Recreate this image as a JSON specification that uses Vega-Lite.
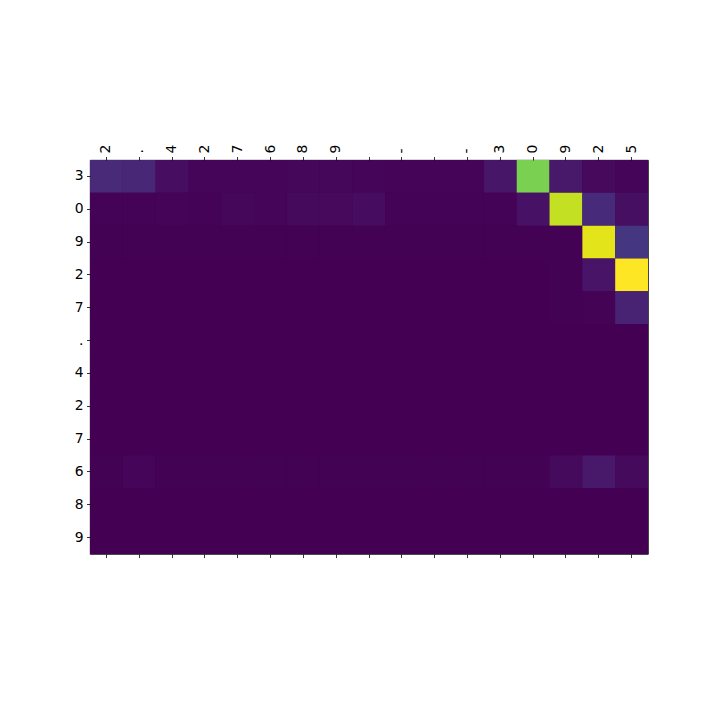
{
  "$schema": "https://vega.github.io/schema/vega-lite/v6.json",
  "width": 558,
  "height": 394,
  "autosize": {"type": "none"},
  "padding": {"left": 90, "top": 160, "right": 72, "bottom": 166},
  "background": "white",
  "data": {"values": [
    {"r":0,"c":0,"v":0.115},{"r":0,"c":1,"v":0.105},{"r":0,"c":2,"v":0.03},{"r":0,"c":3,"v":0.01},{"r":0,"c":4,"v":0.014},{"r":0,"c":5,"v":0.014},{"r":0,"c":6,"v":0.016},{"r":0,"c":7,"v":0.016},{"r":0,"c":8,"v":0.012},{"r":0,"c":9,"v":0.008},{"r":0,"c":10,"v":0.008},{"r":0,"c":11,"v":0.008},{"r":0,"c":12,"v":0.055},{"r":0,"c":13,"v":0.8},{"r":0,"c":14,"v":0.065},{"r":0,"c":15,"v":0.02},{"r":0,"c":16,"v":0.012},
    {"r":1,"c":0,"v":0.004},{"r":1,"c":1,"v":0.004},{"r":1,"c":2,"v":0.008},{"r":1,"c":3,"v":0.004},{"r":1,"c":4,"v":0.016},{"r":1,"c":5,"v":0.01},{"r":1,"c":6,"v":0.022},{"r":1,"c":7,"v":0.02},{"r":1,"c":8,"v":0.027},{"r":1,"c":9,"v":0.004},{"r":1,"c":10,"v":0.004},{"r":1,"c":11,"v":0.004},{"r":1,"c":12,"v":0.004},{"r":1,"c":13,"v":0.045},{"r":1,"c":14,"v":0.91},{"r":1,"c":15,"v":0.12},{"r":1,"c":16,"v":0.035},
    {"r":2,"c":0,"v":0.002},{"r":2,"c":1,"v":0.002},{"r":2,"c":2,"v":0.002},{"r":2,"c":3,"v":0.002},{"r":2,"c":4,"v":0.002},{"r":2,"c":5,"v":0.002},{"r":2,"c":6,"v":0.002},{"r":2,"c":7,"v":0.002},{"r":2,"c":8,"v":0.002},{"r":2,"c":9,"v":0.002},{"r":2,"c":10,"v":0.002},{"r":2,"c":11,"v":0.002},{"r":2,"c":12,"v":0.002},{"r":2,"c":13,"v":0.002},{"r":2,"c":14,"v":0.003},{"r":2,"c":15,"v":0.96},{"r":2,"c":16,"v":0.155},
    {"r":3,"c":0,"v":0.001},{"r":3,"c":1,"v":0.001},{"r":3,"c":2,"v":0.001},{"r":3,"c":3,"v":0.001},{"r":3,"c":4,"v":0.001},{"r":3,"c":5,"v":0.001},{"r":3,"c":6,"v":0.001},{"r":3,"c":7,"v":0.001},{"r":3,"c":8,"v":0.001},{"r":3,"c":9,"v":0.001},{"r":3,"c":10,"v":0.001},{"r":3,"c":11,"v":0.001},{"r":3,"c":12,"v":0.001},{"r":3,"c":13,"v":0.001},{"r":3,"c":14,"v":0.002},{"r":3,"c":15,"v":0.05},{"r":3,"c":16,"v":1.0},
    {"r":4,"c":0,"v":0.001},{"r":4,"c":1,"v":0.001},{"r":4,"c":2,"v":0.001},{"r":4,"c":3,"v":0.001},{"r":4,"c":4,"v":0.001},{"r":4,"c":5,"v":0.001},{"r":4,"c":6,"v":0.001},{"r":4,"c":7,"v":0.001},{"r":4,"c":8,"v":0.001},{"r":4,"c":9,"v":0.001},{"r":4,"c":10,"v":0.001},{"r":4,"c":11,"v":0.001},{"r":4,"c":12,"v":0.001},{"r":4,"c":13,"v":0.001},{"r":4,"c":14,"v":0.002},{"r":4,"c":15,"v":0.006},{"r":4,"c":16,"v":0.095},
    {"r":5,"c":0,"v":0},{"r":5,"c":1,"v":0},{"r":5,"c":2,"v":0},{"r":5,"c":3,"v":0},{"r":5,"c":4,"v":0},{"r":5,"c":5,"v":0},{"r":5,"c":6,"v":0},{"r":5,"c":7,"v":0},{"r":5,"c":8,"v":0},{"r":5,"c":9,"v":0},{"r":5,"c":10,"v":0},{"r":5,"c":11,"v":0},{"r":5,"c":12,"v":0},{"r":5,"c":13,"v":0},{"r":5,"c":14,"v":0},{"r":5,"c":15,"v":0},{"r":5,"c":16,"v":0.001},
    {"r":6,"c":0,"v":0},{"r":6,"c":1,"v":0},{"r":6,"c":2,"v":0},{"r":6,"c":3,"v":0},{"r":6,"c":4,"v":0},{"r":6,"c":5,"v":0},{"r":6,"c":6,"v":0},{"r":6,"c":7,"v":0},{"r":6,"c":8,"v":0},{"r":6,"c":9,"v":0},{"r":6,"c":10,"v":0},{"r":6,"c":11,"v":0},{"r":6,"c":12,"v":0},{"r":6,"c":13,"v":0},{"r":6,"c":14,"v":0},{"r":6,"c":15,"v":0},{"r":6,"c":16,"v":0.001},
    {"r":7,"c":0,"v":0},{"r":7,"c":1,"v":0},{"r":7,"c":2,"v":0},{"r":7,"c":3,"v":0},{"r":7,"c":4,"v":0},{"r":7,"c":5,"v":0},{"r":7,"c":6,"v":0},{"r":7,"c":7,"v":0},{"r":7,"c":8,"v":0},{"r":7,"c":9,"v":0},{"r":7,"c":10,"v":0},{"r":7,"c":11,"v":0},{"r":7,"c":12,"v":0},{"r":7,"c":13,"v":0},{"r":7,"c":14,"v":0},{"r":7,"c":15,"v":0},{"r":7,"c":16,"v":0.001},
    {"r":8,"c":0,"v":0},{"r":8,"c":1,"v":0},{"r":8,"c":2,"v":0},{"r":8,"c":3,"v":0},{"r":8,"c":4,"v":0},{"r":8,"c":5,"v":0},{"r":8,"c":6,"v":0},{"r":8,"c":7,"v":0},{"r":8,"c":8,"v":0},{"r":8,"c":9,"v":0},{"r":8,"c":10,"v":0},{"r":8,"c":11,"v":0},{"r":8,"c":12,"v":0},{"r":8,"c":13,"v":0},{"r":8,"c":14,"v":0},{"r":8,"c":15,"v":0.001},{"r":8,"c":16,"v":0.001},
    {"r":9,"c":0,"v":0.002},{"r":9,"c":1,"v":0.014},{"r":9,"c":2,"v":0.002},{"r":9,"c":3,"v":0.002},{"r":9,"c":4,"v":0.002},{"r":9,"c":5,"v":0.002},{"r":9,"c":6,"v":0.002},{"r":9,"c":7,"v":0.002},{"r":9,"c":8,"v":0.002},{"r":9,"c":9,"v":0.002},{"r":9,"c":10,"v":0.002},{"r":9,"c":11,"v":0.002},{"r":9,"c":12,"v":0.002},{"r":9,"c":13,"v":0.003},{"r":9,"c":14,"v":0.022},{"r":9,"c":15,"v":0.06},{"r":9,"c":16,"v":0.022},
    {"r":10,"c":0,"v":0},{"r":10,"c":1,"v":0},{"r":10,"c":2,"v":0},{"r":10,"c":3,"v":0},{"r":10,"c":4,"v":0},{"r":10,"c":5,"v":0},{"r":10,"c":6,"v":0},{"r":10,"c":7,"v":0},{"r":10,"c":8,"v":0},{"r":10,"c":9,"v":0},{"r":10,"c":10,"v":0},{"r":10,"c":11,"v":0},{"r":10,"c":12,"v":0},{"r":10,"c":13,"v":0},{"r":10,"c":14,"v":0},{"r":10,"c":15,"v":0},{"r":10,"c":16,"v":0},
    {"r":11,"c":0,"v":0},{"r":11,"c":1,"v":0},{"r":11,"c":2,"v":0},{"r":11,"c":3,"v":0},{"r":11,"c":4,"v":0},{"r":11,"c":5,"v":0},{"r":11,"c":6,"v":0},{"r":11,"c":7,"v":0},{"r":11,"c":8,"v":0},{"r":11,"c":9,"v":0},{"r":11,"c":10,"v":0},{"r":11,"c":11,"v":0},{"r":11,"c":12,"v":0},{"r":11,"c":13,"v":0},{"r":11,"c":14,"v":0},{"r":11,"c":15,"v":0},{"r":11,"c":16,"v":0}
  ]},
  "layer": [
    {
      "mark": {"type": "rect", "strokeWidth": 0},
      "encoding": {
        "x": {"field": "c", "type": "ordinal", "sort": "ascending",
              "scale": {"paddingInner": 0, "paddingOuter": 0},
              "axis": {"orient": "top", "title": null, "labelAngle": -90,
                       "labelExpr": "['2','.','4','2','7','6','8','9',' ','-',' ','-','3','0','9','2','5'][datum.value]"}},
        "y": {"field": "r", "type": "ordinal", "sort": "ascending",
              "scale": {"paddingInner": 0, "paddingOuter": 0},
              "axis": {"orient": "left", "title": null, "labelAngle": 0,
                       "labelExpr": "['3','0','9','2','7','.','4','2','7','6','8','9'][datum.value]"}},
        "color": {"field": "v", "type": "quantitative",
                  "scale": {"scheme": "viridis", "domain": [0, 1]}, "legend": null}
      }
    },
    {
      "mark": {"type": "rect", "opacity": 0, "fillOpacity": 0, "strokeOpacity": 0},
      "encoding": {
        "x": {"field": "c", "type": "ordinal", "sort": "ascending",
              "axis": {"orient": "bottom", "title": null, "labels": false}}
      }
    }
  ],
  "resolve": {"axis": {"x": "independent"}},
  "config": {
    "view": {"stroke": "black", "strokeWidth": 0.8, "fill": "#440154"},
    "axis": {
      "domain": false,
      "grid": false,
      "ticks": true,
      "tickColor": "black",
      "tickSize": 3.5,
      "tickWidth": 0.8,
      "labelColor": "black",
      "labelFont": "DejaVu Sans",
      "labelFontSize": 13.9,
      "labelPadding": 3.5
    }
  }
}
